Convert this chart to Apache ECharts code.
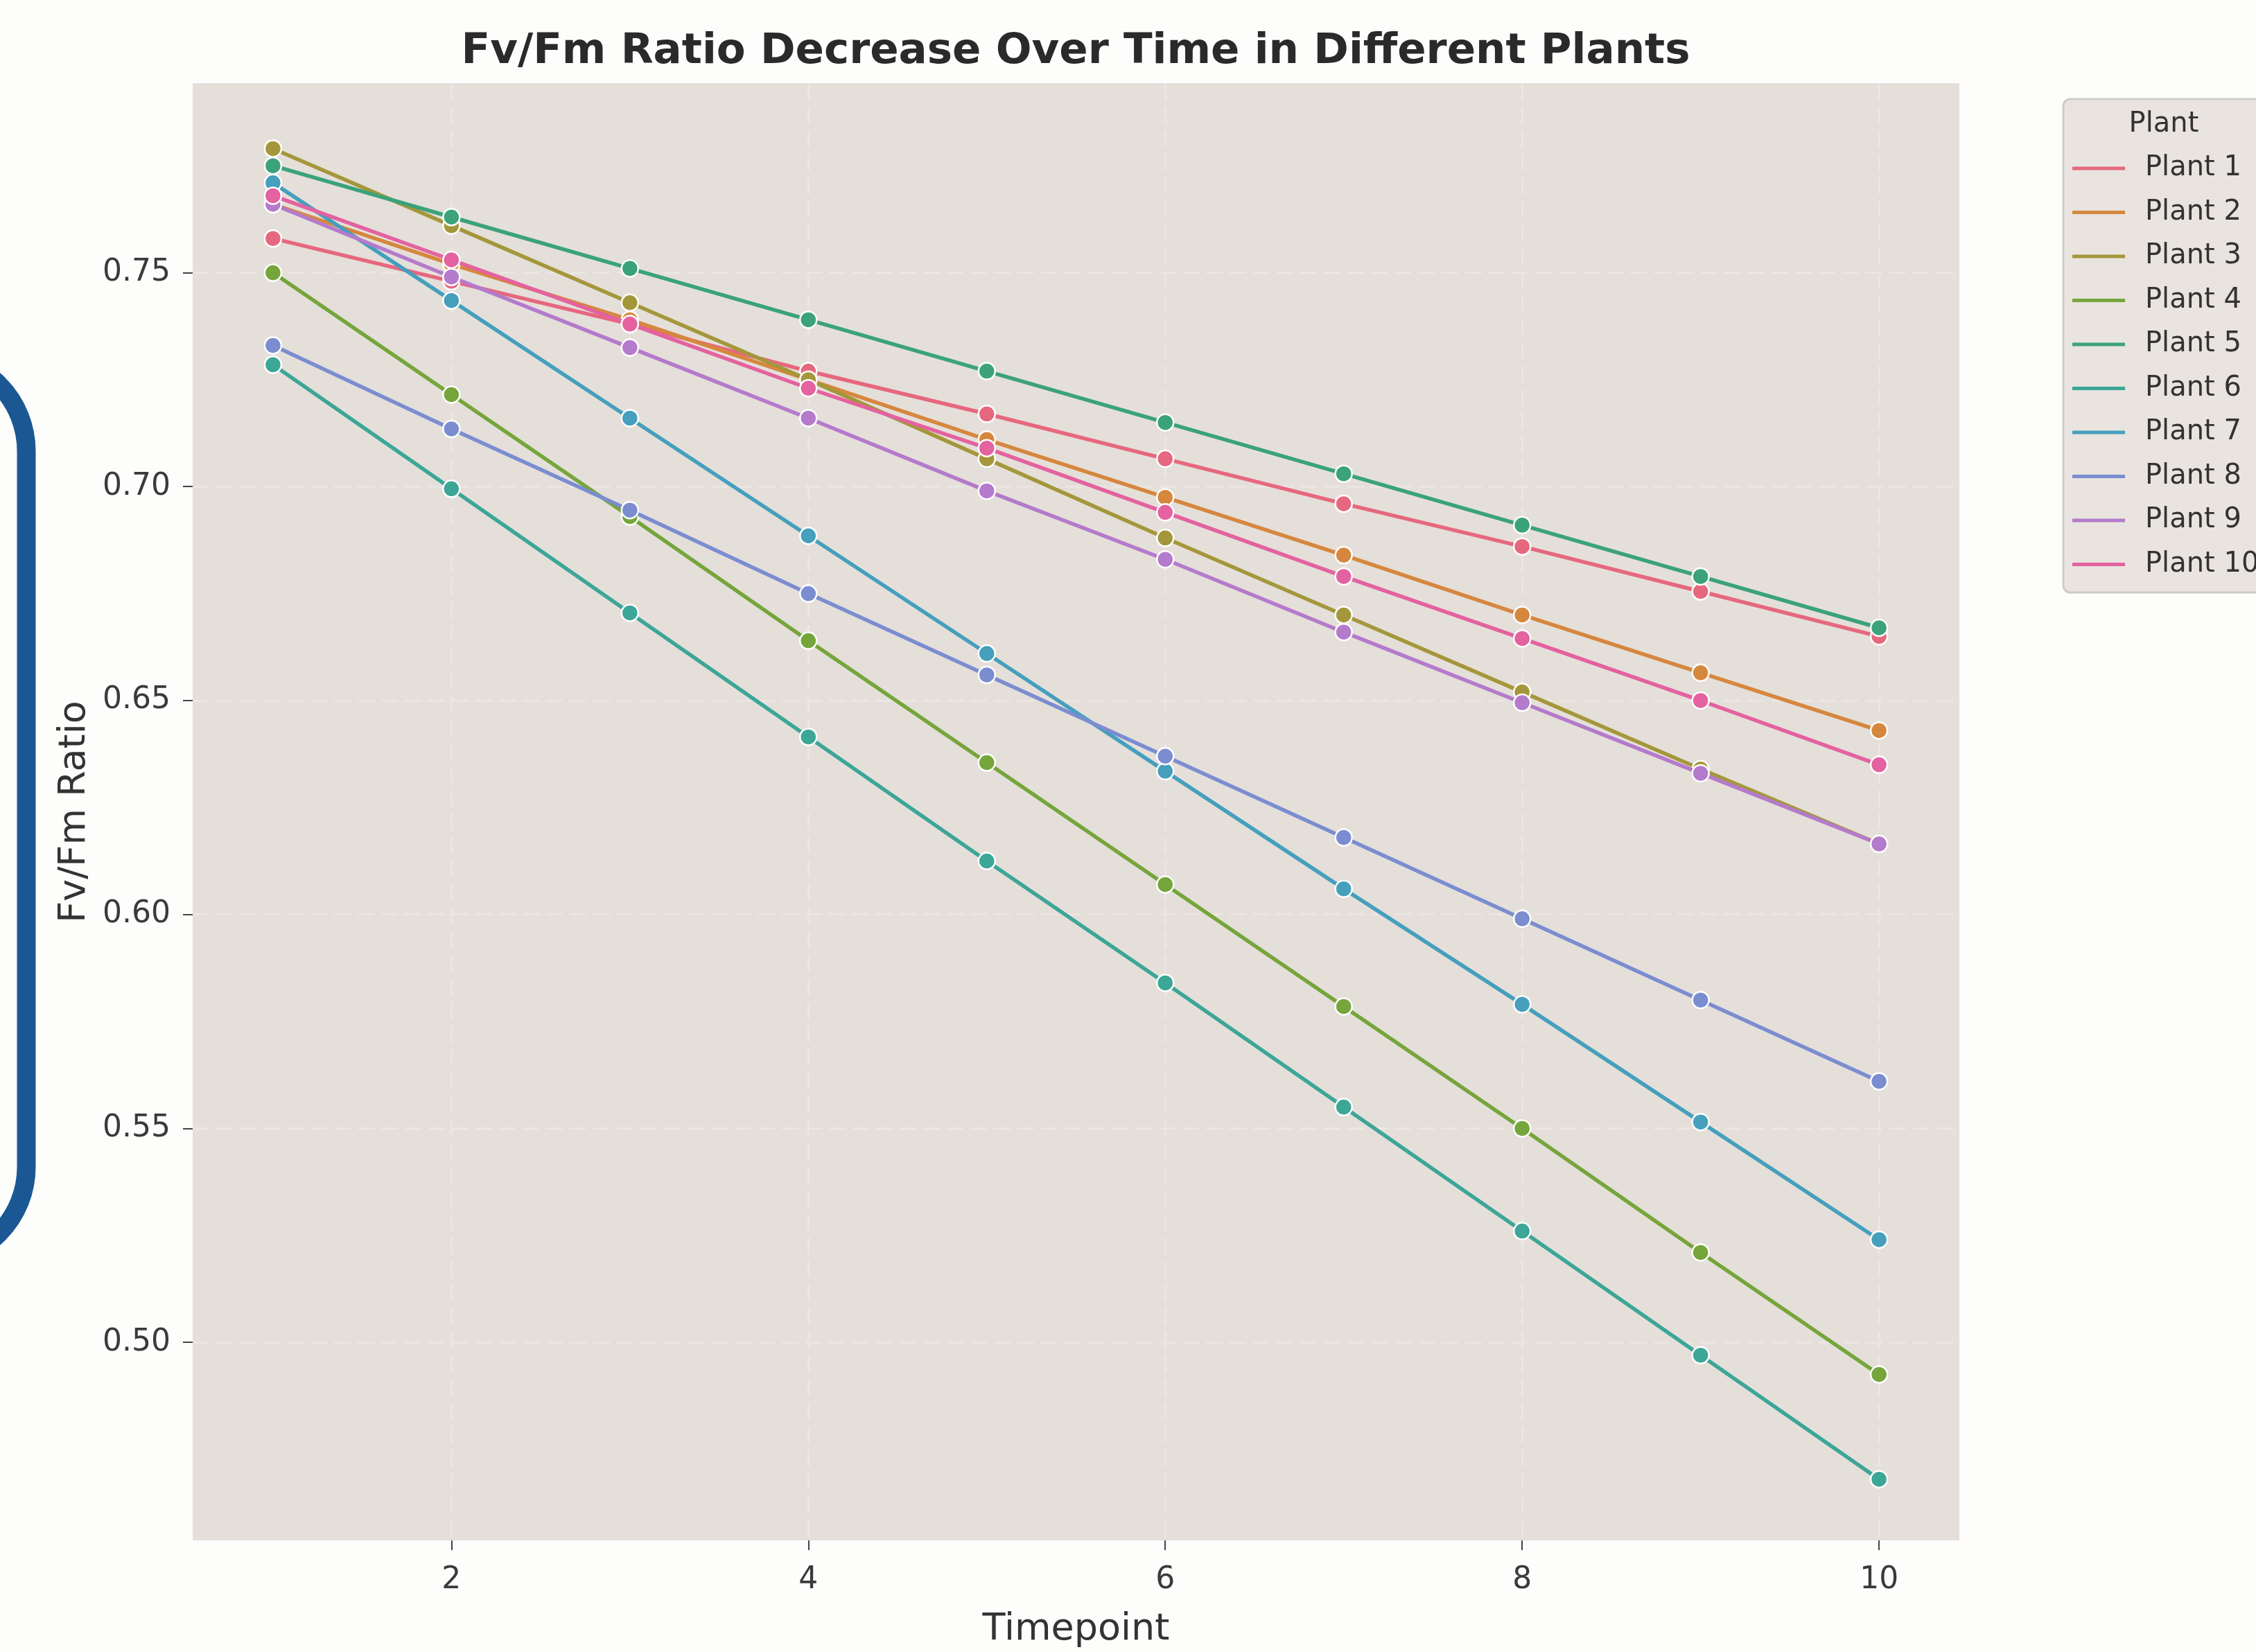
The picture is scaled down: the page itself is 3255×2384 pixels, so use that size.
<!DOCTYPE html>
<html>
<head>
<meta charset="utf-8">
<script src="https://cdn.jsdelivr.net/npm/echarts@6/dist/echarts.min.js"></script>
<style>
html,body{margin:0;padding:0;background:#fdfdfc;}
#chart{width:3255px;height:2384px;}
</style>
</head>
<body>
<div id="chart"></div>
<script>
const timepoints = [1, 2, 3, 4, 5, 6, 7, 8, 9, 10];
const plantNames = ['Plant 1','Plant 2','Plant 3','Plant 4','Plant 5','Plant 6','Plant 7','Plant 8','Plant 9','Plant 10'];
const plant1  = [0.758, 0.748, 0.738, 0.727, 0.717, 0.7065, 0.696, 0.686, 0.6755, 0.665];
const plant2  = [0.766, 0.752, 0.739, 0.725, 0.711, 0.6975, 0.684, 0.670, 0.6565, 0.643];
const plant3  = [0.779, 0.761, 0.743, 0.725, 0.7065, 0.688, 0.670, 0.652, 0.634, 0.6165];
const plant4  = [0.750, 0.7215, 0.693, 0.664, 0.6355, 0.607, 0.5785, 0.550, 0.521, 0.4925];
const plant5  = [0.775, 0.763, 0.751, 0.739, 0.727, 0.715, 0.703, 0.691, 0.679, 0.667];
const plant6  = [0.7285, 0.6995, 0.6705, 0.6415, 0.6125, 0.584, 0.555, 0.526, 0.497, 0.468];
const plant7  = [0.771, 0.7435, 0.716, 0.6885, 0.661, 0.6335, 0.606, 0.579, 0.5515, 0.524];
const plant8  = [0.733, 0.7135, 0.6945, 0.675, 0.656, 0.637, 0.618, 0.599, 0.580, 0.561];
const plant9  = [0.766, 0.749, 0.7325, 0.716, 0.699, 0.683, 0.666, 0.6495, 0.633, 0.6165];
const plant10 = [0.768, 0.753, 0.738, 0.723, 0.709, 0.694, 0.679, 0.6645, 0.650, 0.635];
const plantValues = [plant1, plant2, plant3, plant4, plant5, plant6, plant7, plant8, plant9, plant10];
const xTicks = [2, 4, 6, 8, 10];
const yTicks = [0.50, 0.55, 0.60, 0.65, 0.70, 0.75];
const colors = ['#e6687e','#d6873e','#a4973b','#75a53b','#3ba27a','#3ca697','#459fbd','#7b8dd0','#b47acb','#e3629f'];

const FONT = "'DejaVu Sans', sans-serif";
const chart = echarts.init(document.getElementById('chart'), null, {renderer: 'canvas'});

const series = plantNames.map((name, i) => ({
  name: name,
  type: 'line',
  data: timepoints.map((t, j) => [t, plantValues[i][j]]),
  symbol: 'circle',
  symbolSize: 24,
  lineStyle: {width: 5.5, color: colors[i]},
  itemStyle: {color: colors[i], borderColor: '#ffffff', borderWidth: 2.5},
  emphasis: {disabled: true},
  z: 3 + i
}));

const option = {
  backgroundColor: '#fdfdfc',
  animation: false,
  grid: {
    left: 278, top: 120, width: 2549, height: 2108,
    show: true, backgroundColor: '#e5dfda', borderWidth: 0
  },
  xAxis: {
    type: 'value', min: 0.55, max: 10.45,
    name: 'Timepoint', nameLocation: 'middle', nameGap: 102,
    nameTextStyle: {fontSize: 54, color: '#333', fontFamily: FONT},
    axisLine: {show: false},
    axisTick: {show: true, customValues: xTicks, length: 14, lineStyle: {color: '#444', width: 2}},
    axisLabel: {customValues: xTicks, fontSize: 44, color: '#3a3a3a', fontFamily: FONT, margin: 36},
    splitLine: {show: true, lineStyle: {color: '#ebe6e2', width: 3, type: [24, 10]}}
  },
  yAxis: {
    type: 'value', min: 0.4537, max: 0.7943,
    name: 'Fv/Fm Ratio', nameLocation: 'middle', nameGap: 143, nameRotate: 90,
    nameTextStyle: {fontSize: 54, color: '#333', fontFamily: FONT},
    axisLine: {show: false},
    axisTick: {show: true, customValues: yTicks, length: 14, lineStyle: {color: '#444', width: 2}},
    axisLabel: {customValues: yTicks, fontSize: 44, color: '#3a3a3a', fontFamily: FONT, margin: 32,
      formatter: v => v.toFixed(2)},
    splitLine: {show: true, lineStyle: {color: '#ebe6e2', width: 3, type: [24, 10]}}
  },
  legend: {
    orient: 'vertical', left: 2990, top: 223, padding: 0,
    icon: 'rect', itemWidth: 76, itemHeight: 5, itemGap: 23.5,
    itemStyle: {borderWidth: 0},
    textStyle: {fontSize: 40, lineHeight: 40, color: '#333', fontFamily: FONT, padding: [0, 0, 0, 24]},
    data: plantNames,
    selectedMode: false
  },
  graphic: [
    {type: 'rect', z: 0, silent: true,
     shape: {x: 2977, y: 143, width: 320, height: 712, r: 10},
     style: {fill: '#e9e4df', stroke: '#cfcbc7', lineWidth: 3}},
    {type: 'text', z: 10, silent: true, x: 3122, y: 180,
     style: {text: 'Plant', fontSize: 40, fontFamily: FONT, fill: '#333', align: 'center', verticalAlign: 'middle'}},
    {type: 'text', z: 10, silent: true, x: 1552, y: 75,
     style: {text: 'Fv/Fm Ratio Decrease Over Time in Different Plants', fontSize: 61, fontWeight: 'bold',
             fontFamily: FONT, fill: '#2a2a2a', align: 'center', verticalAlign: 'middle'}},
    {type: 'rect', z: 10, silent: true,
     shape: {x: -300, y: 515, width: 338, height: 1305, r: 136},
     style: {fill: 'none', stroke: '#1b5893', lineWidth: 27}}
  ],
  series: series
};
chart.setOption(option);
</script>
</body>
</html>
